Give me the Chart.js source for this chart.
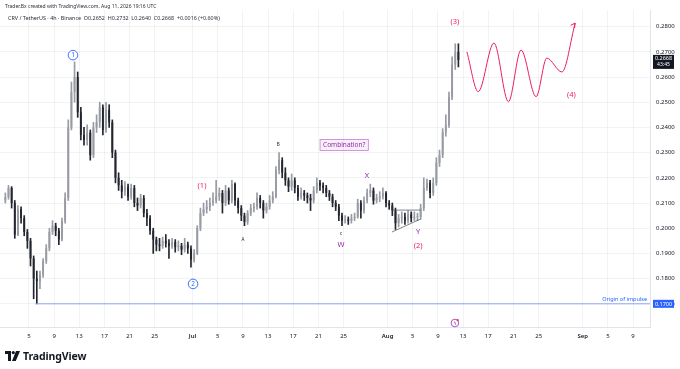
<!doctype html>
<html lang="en">
<head>
<meta charset="UTF-8">
<meta name="viewport" content="width=device-width, initial-scale=1.0">
<title>CRV / TetherUS 4h</title>
<script src="https://cdn.jsdelivr.net/npm/chart.js"></script>
<style>
  html, body { margin: 0; padding: 0; background: #fff; }
  body { width: 680px; height: 369px; position: relative; overflow: hidden; font-family: "Noto Sans", Roboto, sans-serif; }
  #wrap { position: absolute; left: 0; top: 0; width: 680px; height: 369px; }
  .credit { position: absolute; left: 5px; top: 3px; font-size: 5px; color: #2a2e39; white-space: nowrap; }
  .legend { position: absolute; left: 8px; top: 14px; font-size: 5.4px; color: #2a2e39; white-space: nowrap; }
  .logo { position: absolute; left: 5px; top: 349px; height: 14px; display: flex; align-items: center; }
  .logo span { font-size: 10.5px; font-weight: 700; color: #131722; margin-left: 3px; letter-spacing: -0.1px; }
</style>
</head>
<body>
<div id="wrap"><canvas id="chart"></canvas></div>
<div class="credit">Trader.Bx created with TradingView.com, Aug 11, 2026 19:16 UTC</div>
<div class="legend">CRV / TetherUS · 4h · Binance &nbsp;O0.2652 &nbsp;H0.2732 &nbsp;L0.2640 &nbsp;C0.2668 &nbsp;+0.0016 (+0.60%)</div>
<div class="logo">
  <svg width="15" height="10" viewBox="0 0 15 10">
    <path d="M0 0h6v10H3V3H0z" fill="#131722"/>
    <circle cx="8.3" cy="1.6" r="1.6" fill="#131722"/>
    <path d="M11 0h4l-4.2 10H7z" fill="#131722"/>
  </svg>
  <span>TradingView</span>
</div>
<script>
// 12h candles, day 0 = Jun 1 00:00
const firstCandleDay = 0.25;
const candleStep = 0.5;

const opens = [
  .2110,.2124,.2160,.2100,.1975,.2075,.2040,.1985,.1950,.1880,
  .1800,.1790,.1815,.1870,.1920,.1985,.2010,.1990,.1955,.2030,
  .2120,.2400,.2540,.2600,.2460,.2370,.2350,.2380,.2290,.2400,
  .2420,.2480,.2390,.2470,.2420,.2300,.2200,.2170,.2145,.2165,
  .2125,.2160,.2100,.2090,.2120,.2060,.2040,.1990,.1955,.1935,
  .1930,.1950,.1940,.1930,.1945,.1925,.1930,.1915,.1935,.1920,
  .1875,.1900,.2000,.2060,.2075,.2085,.2100,.2110,.2125,.2140,
  .2100,.2150,.2110,.2175,.2110,.2080,.2050,.2025,.2060,.2080,
  .2085,.2120,.2100,.2070,.2085,.2110,.2125,.2230,.2270,.2220,
  .2190,.2165,.2190,.2160,.2125,.2140,.2130,.2120,.2110,.2150,
  .2180,.2170,.2160,.2140,.2125,.2100,.2085,.2050,.2030,.2035,
  .2030,.2040,.2045,.2100,.2070,.2110,.2140,.2150,.2110,.2120,
  .2125,.2140,.2100,.2090,.2070,.2020,.2040,.2045,.2030,.2055,
  .2040,.2045,.2045,.2080,.2160,.2180,.2140,.2180,.2260,.2290,
  .2380,.2410,.2520,.2650,.2700
];
const highs = [
  .2140,.2170,.2165,.2110,.2090,.2085,.2050,.1995,.1960,.1890,
  .1830,.1830,.1880,.1935,.2000,.2030,.2020,.2000,.2040,.2140,
  .2430,.2580,.2660,.2620,.2480,.2400,.2410,.2390,.2420,.2450,
  .2500,.2490,.2500,.2490,.2430,.2310,.2220,.2190,.2185,.2175,
  .2175,.2170,.2120,.2135,.2130,.2075,.2050,.2000,.1965,.1960,
  .1965,.1975,.1955,.1960,.1955,.1950,.1940,.1960,.1945,.1930,
  .1915,.2010,.2080,.2100,.2110,.2120,.2140,.2190,.2160,.2150,
  .2170,.2160,.2190,.2180,.2120,.2090,.2060,.2070,.2095,.2100,
  .2140,.2130,.2110,.2100,.2130,.2145,.2245,.2300,.2280,.2240,
  .2200,.2215,.2200,.2170,.2160,.2150,.2140,.2135,.2165,.2200,
  .2190,.2180,.2170,.2150,.2135,.2110,.2095,.2060,.2050,.2045,
  .2055,.2060,.2115,.2110,.2125,.2155,.2175,.2160,.2135,.2145,
  .2160,.2145,.2110,.2100,.2080,.2055,.2065,.2060,.2070,.2065,
  .2065,.2060,.2095,.2200,.2195,.2190,.2200,.2280,.2310,.2395,
  .2450,.2540,.2680,.2732,.2732
];
const lows = [
  .2100,.2115,.2080,.1960,.1970,.2020,.1970,.1920,.1850,.1720,
  .1700,.1760,.1805,.1860,.1910,.1975,.1970,.1935,.1950,.2020,
  .2110,.2390,.2500,.2440,.2350,.2330,.2330,.2270,.2280,.2380,
  .2400,.2370,.2380,.2400,.2280,.2180,.2150,.2120,.2130,.2110,
  .2115,.2085,.2070,.2080,.2045,.2010,.1975,.1900,.1910,.1910,
  .1920,.1925,.1880,.1920,.1905,.1910,.1895,.1905,.1900,.1845,
  .1865,.1895,.1990,.2050,.2060,.2070,.2090,.2100,.2110,.2060,
  .2090,.2095,.2100,.2090,.2060,.2030,.2010,.2015,.2050,.2065,
  .2075,.2080,.2040,.2060,.2075,.2100,.2120,.2215,.2200,.2170,
  .2145,.2150,.2140,.2110,.2115,.2110,.2100,.2070,.2100,.2140,
  .2150,.2140,.2125,.2110,.2085,.2070,.2030,.2010,.2020,.2015,
  .2020,.2030,.2040,.2040,.2060,.2100,.2125,.2095,.2100,.2105,
  .2115,.2085,.2075,.2050,.1995,.2005,.2020,.2015,.2020,.2025,
  .2030,.2030,.2035,.2070,.2150,.2120,.2130,.2170,.2245,.2280,
  .2365,.2400,.2510,.2630,.2640
];
const closes = [
  .2124,.2160,.2100,.1975,.2075,.2040,.1985,.1950,.1880,.1800,
  .1790,.1815,.1870,.1920,.1985,.2010,.1990,.1955,.2030,.2120,
  .2400,.2540,.2600,.2460,.2370,.2350,.2380,.2290,.2400,.2420,
  .2480,.2390,.2470,.2420,.2300,.2200,.2170,.2145,.2165,.2125,
  .2160,.2100,.2090,.2120,.2060,.2040,.1990,.1955,.1935,.1930,
  .1950,.1940,.1930,.1945,.1925,.1930,.1915,.1935,.1920,.1875,
  .1900,.2000,.2060,.2075,.2085,.2100,.2110,.2125,.2140,.2100,
  .2150,.2110,.2175,.2110,.2080,.2050,.2025,.2060,.2080,.2085,
  .2120,.2100,.2070,.2085,.2110,.2125,.2230,.2270,.2220,.2190,
  .2165,.2190,.2160,.2125,.2140,.2130,.2120,.2110,.2150,.2180,
  .2170,.2160,.2140,.2125,.2100,.2085,.2050,.2030,.2035,.2030,
  .2040,.2045,.2100,.2070,.2110,.2140,.2150,.2110,.2120,.2125,
  .2140,.2100,.2090,.2070,.2020,.2040,.2045,.2030,.2055,.2040,
  .2045,.2045,.2080,.2160,.2180,.2140,.2180,.2260,.2290,.2380,
  .2410,.2520,.2650,.2700,.2668
];

// projected path (drawn by hand on the chart)
const projDays   = [73.6, 75.4, 77.9, 80.2, 82.2, 84.6, 86.3, 88.7, 90.8];
const projPrices = [0.2700, 0.2542, 0.2735, 0.2502, 0.2707, 0.2522, 0.2675, 0.2620, 0.2814];

// contracting triangle before the breakout
const triTopDays = [61.7, 66.2];
const triTopPrices = [0.2072, 0.2072];
const triBotDays = [61.7, 66.2];
const triBotPrices = [0.1985, 0.2036];

const originDays = [5.0, 110];
const originPrices = [0.1700, 0.1700];

// axis ticks
const tickDays   = [4, 8, 12, 16, 20, 24, 30, 34, 38, 42, 46, 50, 54, 61, 65, 69, 73, 77, 81, 85, 92, 96, 100];
const tickLabels = ['5','9','13','17','21','25','Jul','5','9','13','17','21','25','Aug','5','9','13','17','21','25','Sep','5','9'];
const priceTicks = [0.17, 0.18, 0.19, 0.20, 0.21, 0.22, 0.23, 0.24, 0.25, 0.26, 0.27, 0.28];

const lastPrice = 0.2668;
const originPrice = 0.1700;

const PINK = '#e91e63', PURPLE = '#9c27b0', BLUE = '#2962ff', INK = '#131722';
const UP = '#989ba3', DOWN = '#23262f';

const candleDays = closes.map((_, i) => firstCandleDay + i * candleStep);
const candleColor = (ctx) => closes[ctx.dataIndex] >= opens[ctx.dataIndex] ? UP : DOWN;

const marks = [
  { d: 31.5,  p: 0.2167, t: '(1)', c: PINK, s: 7.5 },
  { d: 65.85, p: 0.1929, t: '(2)', c: PINK, s: 7.5 },
  { d: 71.7,  p: 0.2818, t: '(3)', c: PINK, s: 7.5 },
  { d: 90.2,  p: 0.2529, t: '(4)', c: PINK, s: 7.5 },
  { d: 53.6,  p: 0.1933, t: 'W', c: PURPLE, s: 7.5 },
  { d: 57.7,  p: 0.2207, t: 'X', c: PURPLE, s: 7.5 },
  { d: 65.85, p: 0.1985, t: 'Y', c: PURPLE, s: 7.5 },
  { d: 38.0,  p: 0.1953, t: 'A', c: INK, s: 4.5 },
  { d: 43.6,  p: 0.2330, t: 'B', c: INK, s: 4.5 },
  { d: 53.6,  p: 0.1977, t: 'c', c: INK, s: 5 }
];
const circled = [
  { d: 11.0,  p: 0.2687, t: '1' },
  { d: 30.08, p: 0.1779, t: '2' }
];

const overlay = {
  id: 'overlay',
  afterDatasetsDraw(chart) {
    const { ctx, scales: { x, y }, chartArea } = chart;
    ctx.save();
    ctx.textAlign = 'center';
    ctx.textBaseline = 'middle';
    marks.forEach(m => {
      ctx.font = `${m.s}px "Noto Sans", sans-serif`;
      ctx.fillStyle = m.c;
      ctx.fillText(m.t, x.getPixelForValue(m.d), y.getPixelForValue(m.p));
    });
    circled.forEach(m => {
      const px = x.getPixelForValue(m.d), py = y.getPixelForValue(m.p);
      ctx.beginPath();
      ctx.arc(px, py, 4.8, 0, Math.PI * 2);
      ctx.fillStyle = '#fff';
      ctx.fill();
      ctx.strokeStyle = BLUE;
      ctx.lineWidth = 0.9;
      ctx.stroke();
      ctx.font = '6.5px "Noto Sans", sans-serif';
      ctx.fillStyle = BLUE;
      ctx.fillText(m.t, px, py + 0.3);
    });

    // Combination? box
    const bx = x.getPixelForValue(54.1), by = y.getPixelForValue(0.2330);
    ctx.font = '6.5px "Noto Sans", sans-serif';
    const w = ctx.measureText('Combination?').width + 6;
    ctx.fillStyle = 'rgba(156,39,176,0.07)';
    ctx.fillRect(bx - w / 2, by - 5.5, w, 11);
    ctx.strokeStyle = '#c77dd6';
    ctx.lineWidth = 0.8;
    ctx.strokeRect(bx - w / 2, by - 5.5, w, 11);
    ctx.fillStyle = PURPLE;
    ctx.fillText('Combination?', bx, by + 0.3);

    // arrow head on the projection
    const n = projDays.length;
    const ex = x.getPixelForValue(projDays[n - 1]), ey = y.getPixelForValue(projPrices[n - 1]);
    const sx = x.getPixelForValue(projDays[n - 2]), sy = y.getPixelForValue(projPrices[n - 2]);
    const ang = Math.atan2(ey - sy, ex - sx) + 0.35;
    ctx.strokeStyle = PINK;
    ctx.lineWidth = 1;
    ctx.beginPath();
    ctx.moveTo(ex - 5 * Math.cos(ang - 0.5), ey - 5 * Math.sin(ang - 0.5));
    ctx.lineTo(ex, ey);
    ctx.lineTo(ex - 5 * Math.cos(ang + 0.5), ey - 5 * Math.sin(ang + 0.5));
    ctx.stroke();

    // origin label
    ctx.textAlign = 'right';
    ctx.textBaseline = 'bottom';
    ctx.font = '5.5px "Noto Sans", sans-serif';
    ctx.fillStyle = BLUE;
    ctx.fillText('Origin of impulse', chartArea.right - 3, y.getPixelForValue(originPrice) - 2);

    // event marker near time axis
    const ix = x.getPixelForValue(71.7), iy = chartArea.bottom - 4;
    ctx.beginPath();
    ctx.arc(ix, iy, 3.8, 0, Math.PI * 2);
    ctx.fillStyle = '#fff';
    ctx.fill();
    ctx.strokeStyle = '#9c27b0';
    ctx.lineWidth = 0.8;
    ctx.stroke();
    ctx.textAlign = 'center';
    ctx.textBaseline = 'middle';
    ctx.font = '5px "DejaVu Sans", sans-serif';
    ctx.fillStyle = '#9c27b0';
    ctx.fillText('ϟ', ix, iy + 0.3);
    ctx.beginPath();
    ctx.arc(ix + 2.8, iy - 2.8, 1.1, 0, Math.PI * 2);
    ctx.fillStyle = '#f23645';
    ctx.fill();
    ctx.restore();
  },
  afterDraw(chart) {
    const { ctx, scales: { y }, chartArea } = chart;
    ctx.save();
    const left = chartArea.right + 3, bw = 21;
    // last price tag
    const ly = y.getPixelForValue(lastPrice);
    ctx.fillStyle = INK;
    ctx.fillRect(left, ly - 5, bw, 14);
    ctx.fillStyle = '#fff';
    ctx.textAlign = 'center';
    ctx.textBaseline = 'middle';
    ctx.font = '5.5px "Noto Sans", sans-serif';
    ctx.fillText(lastPrice.toFixed(4), left + bw / 2, ly - 1);
    ctx.font = '5px "Noto Sans", sans-serif';
    ctx.fillText('43:45', left + bw / 2, ly + 5);
    // origin tag
    const oy = y.getPixelForValue(originPrice);
    ctx.fillStyle = BLUE;
    ctx.fillRect(left, oy - 4, bw, 8);
    ctx.fillStyle = '#fff';
    ctx.font = '5.5px "Noto Sans", sans-serif';
    ctx.fillText(originPrice.toFixed(4), left + bw / 2, oy + 0.3);
    ctx.restore();
  }
};

const lineSet = (xs, ys, color, width) => ({
  type: 'line',
  data: xs.map((v, i) => ({ x: v, y: ys[i] })),
  borderColor: color,
  borderWidth: width,
  pointRadius: 0,
  fill: false,
  order: 0
});

const wave = lineSet(projDays, projPrices, PINK, 1);
wave.cubicInterpolationMode = 'monotone';

new Chart(document.getElementById('chart'), {
  type: 'bar',
  data: {
    datasets: [
      {
        data: candleDays.map((d, i) => ({ x: d, y: [lows[i], highs[i]] })),
        backgroundColor: candleColor,
        barThickness: 1,
        grouped: false,
        order: 2
      },
      {
        data: candleDays.map((d, i) => ({ x: d, y: [opens[i], closes[i]] })),
        backgroundColor: candleColor,
        barPercentage: 0.6,
        categoryPercentage: 1,
        minBarLength: 1,
        grouped: false,
        order: 1
      },
      lineSet(originDays, originPrices, '#8ea4f2', 1),
      lineSet(triTopDays, triTopPrices, '#4a4e59', 0.7),
      lineSet(triBotDays, triBotPrices, '#4a4e59', 0.7),
      wave
    ]
  },
  options: {
    responsive: true,
    maintainAspectRatio: false,
    animation: false,
    layout: { padding: { top: 10, bottom: 25, left: 0, right: 0 } },
    plugins: { legend: { display: false }, tooltip: { enabled: false } },
    scales: {
      x: {
        type: 'linear',
        min: -0.6,
        max: 102.7,
        offset: false,
        afterBuildTicks: (s) => { s.ticks = tickDays.map(v => ({ value: v })); },
        afterFit: (s) => { s.height = 17; },
        grid: { color: 'rgba(42,46,57,0.06)', drawTicks: false, offset: false },
        border: { color: '#e0e3eb' },
        ticks: {
          autoSkip: false,
          maxRotation: 0,
          padding: 6,
          color: INK,
          font: (c) => ({ size: 6, family: '"Noto Sans", sans-serif', weight: isNaN(+tickLabels[c.index]) ? '600' : 'normal' }),
          callback: (v, i) => tickLabels[i]
        }
      },
      y: {
        position: 'right',
        min: 0.1608,
        max: 0.2866,
        afterBuildTicks: (s) => { s.ticks = priceTicks.map(v => ({ value: v })); },
        afterFit: (s) => { s.width = 30; },
        grid: { color: 'rgba(42,46,57,0.06)', drawTicks: false },
        border: { color: '#e0e3eb' },
        ticks: {
          padding: 6,
          color: INK,
          font: { size: 6, family: '"Noto Sans", sans-serif' },
          callback: (v) => v.toFixed(4)
        }
      }
    }
  },
  plugins: [overlay]
});
</script>
</body>
</html>
